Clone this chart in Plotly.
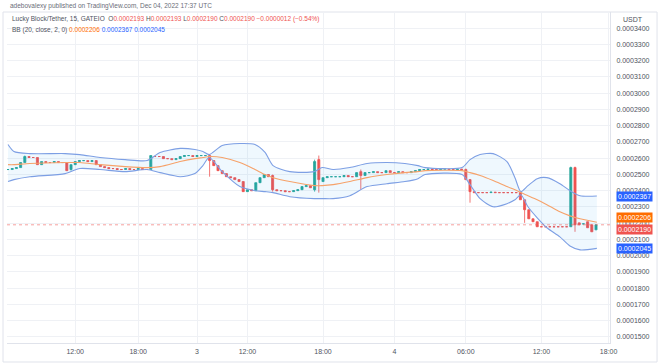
import plotly.graph_objects as go

UNIT = 1e-7  # prices below are in units of 0.0000001 USDT

OPEN = [2530,2530,2536,2542,2573,2610,2604,2604,2560,2579,
        2573,2573,2579,2573,2573,2530,2560,2579,2585,2585,
        2579,2585,2560,2548,2542,2536,2536,2530,2530,2536,
        2530,2530,2536,2530,2530,2610,2610,2610,2597,2597,
        2591,2597,2610,2616,2616,2610,2616,2616,2616,2585,
        2554,2523,2505,2486,2480,2468,2456,2394,2406,2400,
        2449,2480,2499,2493,2406,2400,2400,2394,2394,2400,
        2406,2425,2431,2406,2591,2456,2480,2486,2486,2486,
        2486,2493,2486,2486,2517,2493,2511,2511,2517,2511,
        2511,2523,2511,2511,2517,2511,2511,2517,2523,2530,
        2530,2533,2530,2530,2533,2533,2530,2530,2533,2530,
        2468,2394,2388,2388,2388,2388,2391,2388,2388,2388,
        2388,2388,2388,2344,2283,2227,2209,2178,2178,2178,
        2178,2178,2178,2178,2178,2542,2202,2196,2209,2190,2159]
HIGH = [2530,2536,2542,2573,2616,2610,2604,2604,2579,2579,
        2573,2579,2579,2573,2573,2560,2579,2585,2585,2585,
        2585,2585,2560,2548,2542,2536,2536,2530,2536,2536,
        2530,2536,2536,2530,2616,2610,2610,2610,2597,2597,
        2597,2610,2616,2616,2616,2616,2616,2616,2622,2585,
        2554,2523,2505,2486,2480,2468,2456,2406,2406,2449,
        2480,2499,2499,2499,2406,2400,2400,2394,2400,2406,
        2425,2431,2431,2591,2616,2480,2486,2486,2486,2486,
        2493,2493,2486,2511,2530,2511,2511,2517,2517,2511,
        2523,2523,2511,2517,2517,2511,2517,2523,2530,2530,
        2533,2533,2530,2533,2533,2533,2530,2533,2533,2536,
        2468,2394,2388,2388,2388,2391,2391,2388,2388,2388,
        2388,2388,2388,2344,2283,2227,2209,2178,2178,2178,
        2178,2178,2178,2178,2548,2548,2202,2196,2209,2190,2190]
LOW = [2530,2530,2536,2542,2573,2604,2604,2560,2560,2573,
       2573,2573,2573,2573,2523,2523,2560,2579,2585,2579,
       2579,2560,2548,2542,2536,2536,2530,2530,2530,2530,
       2530,2530,2530,2530,2530,2610,2610,2597,2597,2591,
       2591,2597,2610,2616,2610,2610,2616,2616,2486,2554,
       2523,2505,2486,2480,2468,2456,2394,2394,2400,2400,
       2449,2480,2486,2394,2400,2400,2394,2394,2394,2400,
       2406,2425,2418,2394,2388,2456,2480,2486,2486,2486,
       2486,2486,2486,2486,2406,2493,2511,2511,2511,2511,
       2511,2511,2511,2511,2511,2511,2511,2517,2523,2530,
       2530,2530,2530,2530,2533,2530,2530,2530,2530,2468,
       2326,2388,2388,2388,2388,2388,2388,2388,2388,2388,
       2388,2388,2344,2202,2227,2209,2178,2178,2178,2178,
       2178,2178,2178,2178,2178,2147,2190,2196,2172,2147,2159]
CLOSE = [2530,2536,2542,2573,2610,2604,2604,2560,2579,2573,
         2573,2579,2573,2573,2523,2560,2579,2585,2585,2579,
         2585,2560,2548,2542,2536,2536,2530,2530,2536,2530,
         2530,2536,2530,2530,2616,2610,2610,2597,2597,2591,
         2597,2610,2616,2616,2610,2616,2616,2616,2585,2554,
         2523,2505,2486,2480,2468,2456,2394,2406,2400,2449,
         2480,2499,2486,2406,2400,2400,2394,2394,2400,2406,
         2425,2431,2418,2579,2468,2480,2486,2486,2486,2486,
         2493,2486,2486,2511,2493,2511,2511,2517,2511,2511,
         2523,2511,2511,2517,2511,2511,2517,2523,2530,2530,
         2533,2530,2530,2533,2533,2530,2530,2533,2530,2468,
         2394,2388,2388,2388,2388,2391,2388,2388,2388,2388,
         2388,2388,2344,2283,2227,2209,2178,2178,2178,2178,
         2178,2178,2178,2178,2542,2190,2190,2196,2172,2147,2190]

# Bollinger Bands (20, close, 2) at sample bar positions
BAND_IDX = [0, 1.4, 5.2, 13.6, 17.1, 21.9, 27.9, 33.1, 36.2, 41, 44.5, 46.4, 47.9, 51,
            55.2, 58.8, 61.2, 63.1, 67.1, 72.9, 74.8, 77.4, 81.4, 85.5, 90.2, 94.5,
            97.6, 99.3, 108.1, 110, 112.4, 115.5, 118.8, 120.7, 122.1, 123.8, 126,
            128.3, 131.4, 133.8, 136.2, 140.2]
BB_UPPER = [2684, 2641, 2628, 2628, 2622, 2604, 2591, 2585, 2635, 2660, 2653, 2641, 2622, 2678,
            2690, 2684, 2635, 2554, 2517, 2517, 2542, 2530, 2542, 2567, 2573, 2567,
            2554, 2542, 2542, 2591, 2622, 2628, 2579, 2480, 2394, 2431, 2474,
            2480, 2443, 2400, 2369, 2367]
BB_LOWER = [2456, 2468, 2486, 2505, 2536, 2530, 2517, 2530, 2511, 2486, 2505, 2554, 2604, 2517,
            2425, 2400, 2394, 2388, 2363, 2351, 2351, 2351, 2369, 2425, 2443, 2456,
            2474, 2499, 2499, 2437, 2351, 2301, 2320, 2344, 2375, 2301, 2233,
            2172, 2116, 2060, 2036, 2045]
BB_BASIS = [2560, 2560, 2567, 2573, 2573, 2560, 2548, 2542, 2548, 2579, 2597, 2604, 2610, 2604,
            2573, 2530, 2499, 2480, 2456, 2431, 2431, 2437, 2456, 2480, 2499, 2511,
            2517, 2523, 2523, 2511, 2493, 2462, 2425, 2406, 2388, 2369, 2344,
            2314, 2270, 2245, 2227, 2206]

TICK_IDX = [16, 31, 45, 57, 75, 92, 109, 127, 143]
TICK_TEXT = ["12:00", "18:00", "3", "12:00", "18:00", "4", "06:00", "12:00", "18:00"]

LAST_PRICE = 2190
SCALE_LABELS = [2367, 2206, 2190, 2045]
SCALE_COLORS = ["#2962ff", "#ff6d00", "#ef5350", "#2962ff"]
SCALE_SHIFT = [0, 4.5, -4.5, 0]

LEGEND_OHLC = ["0.0002193", "0.0002193", "0.0002190", "0.0002190", "\u22120.0000012 (\u22120.54%)"]
LEGEND_BB = ["0.0002206", "0.0002367", "0.0002045"]

GREEN = "#26a69a"
RED = "#ef5350"
BAND = "#7d9fe4"
TXT = "#50535e"
GRID = "#eff1f5"
FONT = "Liberation Sans, Arial, sans-serif"


def p(vals):
    return [v * UNIT for v in vals]


fig = go.Figure()
fig.add_trace(go.Scatter(x=BAND_IDX, y=p(BB_UPPER), mode="lines",
                         line=dict(color=BAND, width=1.1, shape="spline", smoothing=0.7),
                         hoverinfo="skip", showlegend=False))
fig.add_trace(go.Scatter(x=BAND_IDX, y=p(BB_LOWER), mode="lines",
                         line=dict(color=BAND, width=1.1, shape="spline", smoothing=0.7),
                         fill="tonexty", fillcolor="rgba(33,150,243,0.07)",
                         hoverinfo="skip", showlegend=False))
fig.add_trace(go.Scatter(x=BAND_IDX, y=p(BB_BASIS), mode="lines",
                         line=dict(color="#f6a26a", width=1.1, shape="spline", smoothing=0.7),
                         hoverinfo="skip", showlegend=False))
fig.add_trace(go.Candlestick(x=list(range(len(OPEN))), open=p(OPEN), high=p(HIGH),
                             low=p(LOW), close=p(CLOSE),
                             increasing=dict(line=dict(color=GREEN, width=0.8), fillcolor=GREEN),
                             decreasing=dict(line=dict(color=RED, width=0.8), fillcolor=RED),
                             whiskerwidth=0, hoverinfo="skip", showlegend=False))

fig.add_hline(y=LAST_PRICE * UNIT, line=dict(color="rgba(239,83,80,0.55)", width=1, dash="dot"))

# frame
fig.add_shape(type="rect", xref="paper", yref="paper", x0=-0.0066, x1=1.078, y0=-0.0574, y1=1.0,
              line=dict(color="#e0e3eb", width=1), layer="below")

ann = []
ann.append(dict(text="adebovalexy published on TradingView.com, Dec 04, 2022 17:37 UTC",
                xref="paper", yref="paper", x=0, y=1, xanchor="left", yanchor="middle",
                xshift=1, yshift=6, showarrow=False, font=dict(size=6.5, color="#6a6d78", family=FONT)))
o, h, l, c, ch = LEGEND_OHLC
line1 = ("Lucky Block/Tether, 15, GATEIO  "
         f"O<span style='color:{RED}'>{o}</span> H<span style='color:{RED}'>{h}</span> "
         f"L<span style='color:{RED}'>{l}</span> C<span style='color:{RED}'>{c}</span> "
         f"<span style='color:{RED}'>{ch}</span>")
ann.append(dict(text=line1, xref="paper", yref="paper", x=0, y=1, xanchor="left", yanchor="middle",
                xshift=3, yshift=-7, showarrow=False, font=dict(size=6.5, color=TXT, family=FONT)))
line2 = ("BB (20, close, 2, 0) "
         f"<span style='color:#ff6d00'>{LEGEND_BB[0]}</span> "
         f"<span style='color:#2962ff'>{LEGEND_BB[1]}</span> "
         f"<span style='color:#2962ff'>{LEGEND_BB[2]}</span>")
ann.append(dict(text=line2, xref="paper", yref="paper", x=0, y=1, xanchor="left", yanchor="middle",
                xshift=3, yshift=-18, showarrow=False, font=dict(size=6.5, color=TXT, family=FONT)))
ann.append(dict(text="USDT", xref="paper", yref="paper", x=1, y=1, xanchor="left", yanchor="middle",
                xshift=11, yshift=-7, showarrow=False, font=dict(size=7, color=TXT, family=FONT)))
for v, col, sh in zip(SCALE_LABELS, SCALE_COLORS, SCALE_SHIFT):
    ann.append(dict(text=f"{v * UNIT:.7f}", xref="paper", yref="y", x=1, y=v * UNIT,
                    xanchor="left", yanchor="middle", xshift=6, yshift=sh, showarrow=False,
                    bgcolor=col, borderpad=1, font=dict(size=7, color="white", family=FONT)))

fig.update_layout(width=660, height=364, margin=dict(l=7, r=50, t=12, b=21, autoexpand=False),
                  paper_bgcolor="white", plot_bgcolor="white", showlegend=False,
                  font=dict(family=FONT, size=7, color=TXT), annotations=ann)
fig.update_xaxes(range=[-0.24, 143.33], tickmode="array", tickvals=TICK_IDX, ticktext=TICK_TEXT,
                 showgrid=True, gridcolor=GRID, gridwidth=1, zeroline=False, showline=True,
                 linecolor="#e0e3eb", ticks="", rangeslider_visible=False, ticklabelstandoff=2,
                 automargin=False, tickfont=dict(size=7, color=TXT, family=FONT))
fig.update_yaxes(side="right", range=[0.0001463, 0.0003499], tick0=0, dtick=1e-5,
                 tickformat=".7f", showgrid=True, gridcolor=GRID, gridwidth=1, zeroline=False,
                 showline=True, linecolor="#e0e3eb", ticks="", ticklabelstandoff=4,
                 automargin=False, tickfont=dict(size=7, color=TXT, family=FONT))

fig.write_html("out.html", config={"displayModeBar": False},
               post_script="document.body.style.margin='0px';")
